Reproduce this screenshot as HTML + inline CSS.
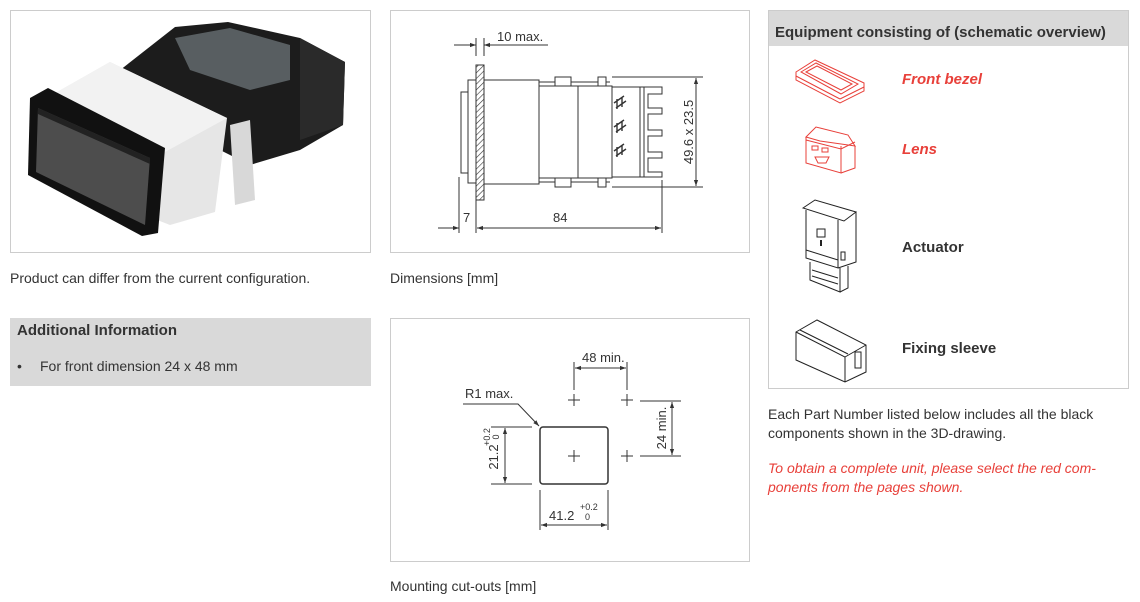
<!DOCTYPE html>
<html><head><meta charset="utf-8"><style>
html,body{margin:0;padding:0;background:#fff;width:1140px;height:602px;overflow:hidden}
svg{display:block}
text{font-family:"Liberation Sans",sans-serif;fill:#333}
</style></head><body>
<svg width="1140" height="602" viewBox="0 0 1140 602" xmlns="http://www.w3.org/2000/svg">
<defs>
<marker id="a" viewBox="0 0 10 10" refX="10" refY="5" markerWidth="8" markerHeight="6" orient="auto-start-reverse" markerUnits="userSpaceOnUse"><path d="M0,1.5 L10,5 L0,8.5z" fill="#333"/></marker>
<pattern id="h" width="4" height="4" patternUnits="userSpaceOnUse" patternTransform="rotate(45)"><line x1="0" y1="0" x2="0" y2="4" stroke="#333" stroke-width="1.2"/></pattern>
</defs>

<!-- panels -->
<rect x="10.5" y="10.5" width="360" height="242" fill="#fff" stroke="#ccc"/>
<rect x="390.5" y="10.5" width="359" height="242" fill="#fff" stroke="#ccc"/>
<rect x="390.5" y="318.5" width="359" height="243" fill="#fff" stroke="#ccc"/>
<rect x="768.5" y="10.5" width="360" height="378" fill="#fff" stroke="#ccc"/>
<rect x="769" y="11" width="359" height="35" fill="#d9d9d9"/>
<text x="775" y="37" font-size="15" font-weight="bold" fill="#222">Equipment consisting of (schematic overview)</text>
<rect x="10" y="318" width="361" height="68" fill="#d9d9d9"/>
<text x="17" y="335" font-size="15" font-weight="bold" fill="#222">Additional Information</text>
<text x="17" y="371" font-size="14">•</text>
<text x="40" y="371" font-size="14">For front dimension 24 x 48 mm</text>

<!-- captions -->
<text x="10" y="283" font-size="14">Product can differ from the current configuration.</text>
<text x="390" y="283" font-size="14">Dimensions [mm]</text>
<text x="390" y="591" font-size="14">Mounting cut-outs [mm]</text>
<text x="768" y="419" font-size="14">Each Part Number listed below includes all the black</text>
<text x="768" y="438" font-size="14">components shown in the 3D-drawing.</text>
<text x="768" y="473" font-size="14" font-style="italic" style="fill:#e8403a">To obtain a complete unit, please select the red com-</text>
<text x="768" y="492" font-size="14" font-style="italic" style="fill:#e8403a">ponents from the pages shown.</text>

<!-- product photo -->
<g>
<polygon points="110,78 175,27 228,22 300,38 345,62 343,125 300,150 250,165 200,140" fill="#1c1c1c"/>
<polygon points="300,38 345,62 343,125 300,140" fill="#2a2a2a"/>
<polygon points="175,38 230,28 290,45 290,80 250,90 190,70" fill="#8a959a" opacity="0.55"/>
<polygon points="43,100 110,62 227,118 215,212 170,225 43,175" fill="#e6e6e6"/>
<polygon points="43,100 110,62 227,118 165,152" fill="#f2f2f2"/>
<polygon points="230,125 250,120 255,200 235,205" fill="#d8d8d8"/>
<polygon points="30,98 48,88 165,148 158,233 142,236 28,175" fill="#111"/>
<polygon points="38,108 150,158 145,225 36,172" fill="#4d4d4d"/>
<polygon points="38,108 150,158 150,164 38,114" fill="#222"/>
</g>

<!-- dimension drawing -->
<g stroke="#333" stroke-width="1" fill="none">
<rect x="476" y="65" width="8" height="135" fill="url(#h)" stroke="#333"/>
<rect x="468" y="80" width="8" height="103" fill="#fff"/>
<rect x="461" y="92" width="7" height="81" fill="#fff"/>
<rect x="484" y="80" width="55" height="104" fill="#fff"/>
<rect x="539" y="86" width="39" height="92" fill="#fff"/>
<rect x="578" y="86" width="34" height="92" fill="#fff"/>
<rect x="612" y="87" width="28" height="90"/>
<line x1="539" y1="82" x2="610" y2="82"/><line x1="539" y1="182" x2="610" y2="182"/>
<rect x="555" y="77" width="16" height="9" fill="#fff"/>
<rect x="555" y="178" width="16" height="9" fill="#fff"/>
<rect x="598" y="77" width="8" height="9" fill="#fff"/>
<rect x="598" y="178" width="8" height="9" fill="#fff"/>
<path d="M640,87 H662 V94 H648 V108 H662 V114 H648 V130 H662 V136 H648 V152 H662 V158 H648 V172 H662 V177 H640"/>
<line x1="644" y1="87" x2="644" y2="177"/>
<g stroke-width="1.4"><path d="M614,103 l10,-7 M616,108 l10,-7 M617,99 v10 M622,97 v10"/>
<path d="M614,127 l10,-7 M616,132 l10,-7 M617,123 v10 M622,121 v10"/>
<path d="M614,151 l10,-7 M616,156 l10,-7 M617,147 v10 M622,145 v10"/></g>
<line x1="612" y1="77" x2="703" y2="77"/><line x1="612" y1="187" x2="703" y2="187"/>
<line x1="696" y1="78" x2="696" y2="186" marker-start="url(#a)" marker-end="url(#a)"/>
<line x1="476" y1="38" x2="476" y2="56"/><line x1="484" y1="38" x2="484" y2="56"/>
<line x1="454" y1="45" x2="476" y2="45" marker-end="url(#a)"/>
<line x1="496" y1="45" x2="484" y2="45" marker-end="url(#a)"/>
<line x1="496" y1="45" x2="548" y2="45"/>
<line x1="459" y1="177" x2="459" y2="233"/><line x1="476" y1="200" x2="476" y2="233"/>
<line x1="662" y1="180" x2="662" y2="233"/>
<line x1="438" y1="228" x2="459" y2="228" marker-end="url(#a)"/>
<line x1="477" y1="228" x2="661" y2="228" marker-start="url(#a)" marker-end="url(#a)"/>
</g>
<text x="497" y="41" font-size="13">10 max.</text>
<text x="463" y="222" font-size="13">7</text>
<text x="553" y="222" font-size="13">84</text>
<text transform="translate(693,132) rotate(-90)" text-anchor="middle" font-size="13">49.6 x 23.5</text>

<!-- cut-out drawing -->
<g stroke="#333" stroke-width="1" fill="none">
<rect x="540" y="427" width="68" height="57" rx="3" stroke-width="1.5"/>
<path d="M568,456 h12 M574,450 v12 M568,400 h12 M574,394 v12 M621,400 h12 M627,394 v12 M621,456 h12 M627,450 v12"/>
<line x1="574" y1="362" x2="574" y2="390"/><line x1="627" y1="362" x2="627" y2="390"/>
<line x1="575" y1="368" x2="626" y2="368" marker-start="url(#a)" marker-end="url(#a)"/>
<line x1="640" y1="401" x2="681" y2="401"/><line x1="640" y1="456" x2="681" y2="456"/>
<line x1="672" y1="402" x2="672" y2="455" marker-start="url(#a)" marker-end="url(#a)"/>
<path d="M463,404 H518 L539,426" marker-end="url(#a)"/>
<line x1="491" y1="427" x2="532" y2="427"/><line x1="491" y1="484" x2="532" y2="484"/>
<line x1="505" y1="428" x2="505" y2="483" marker-start="url(#a)" marker-end="url(#a)"/>
<line x1="540" y1="490" x2="540" y2="530"/><line x1="608" y1="490" x2="608" y2="530"/>
<line x1="541" y1="525" x2="607" y2="525" marker-start="url(#a)" marker-end="url(#a)"/>
</g>
<text x="582" y="362" font-size="13">48 min.</text>
<text x="465" y="398" font-size="13">R1 max.</text>
<text transform="translate(666,428) rotate(-90)" text-anchor="middle" font-size="13">24 min.</text>
<text transform="translate(498,457) rotate(-90)" text-anchor="middle" font-size="13">21.2</text>
<text transform="translate(490,437) rotate(-90)" text-anchor="middle" font-size="9">+0.2</text>
<text transform="translate(499,437) rotate(-90)" text-anchor="middle" font-size="9">0</text>
<text x="549" y="520" font-size="13">41.2</text>
<text x="580" y="510" font-size="9">+0.2</text>
<text x="585" y="520" font-size="9">0</text>

<!-- right icons -->
<g fill="none" stroke="#e8403a" stroke-width="1">
<polygon points="796,72 815,60 864,83 864,91 840,103 796,80"/>
<polygon points="801,72 816,63 858,84 841,94"/>
<polygon points="806,72 817,66 852,84 841,90"/>
<line x1="796" y1="76" x2="840" y2="99"/><line x1="840" y1="99" x2="864" y2="87"/>
<polygon points="806,137 816,127 848,135 855,146 820,141"/>
<path d="M806,137 V163 L841,173 V146 M855,146 V168 L841,173 M806,140 L841,149 L855,142"/>
<path d="M812,146 h6 v4 h-6z M822,148 h6 v4 h-6z M815,157 h14 l-3,6 h-8z"/>
</g>
<g fill="none" stroke="#222" stroke-width="1">
<polygon points="803,208 815,200 856,212 844,221"/>
<path d="M806,210 V258 L838,268 V220 M856,212 V262 L838,268 M806,250 L838,260"/>
<rect x="817" y="229" width="8" height="8"/>
<line x1="821" y1="240" x2="821" y2="246" stroke-width="2"/>
<rect x="841" y="252" width="4" height="8"/>
<path d="M810,262 V280 L840,292 V268 M840,292 L848,288 V266" />
<path d="M812,270 l26,8 M812,276 l26,8" />
<polygon points="796,332 817,320 866,345 866,372 845,382 796,360"/>
<path d="M796,332 L845,357 V382 M845,357 L866,345 M800,330 L848,354"/>
<rect x="855" y="352" width="6" height="16"/>
</g>
<text x="902" y="84" font-size="15" font-weight="bold" font-style="italic" style="fill:#e8403a">Front bezel</text>
<text x="902" y="154" font-size="15" font-weight="bold" font-style="italic" style="fill:#e8403a">Lens</text>
<text x="902" y="252" font-size="15" font-weight="bold" fill="#222">Actuator</text>
<text x="902" y="353" font-size="15" font-weight="bold" fill="#222">Fixing sleeve</text>
</svg>
</body></html>
